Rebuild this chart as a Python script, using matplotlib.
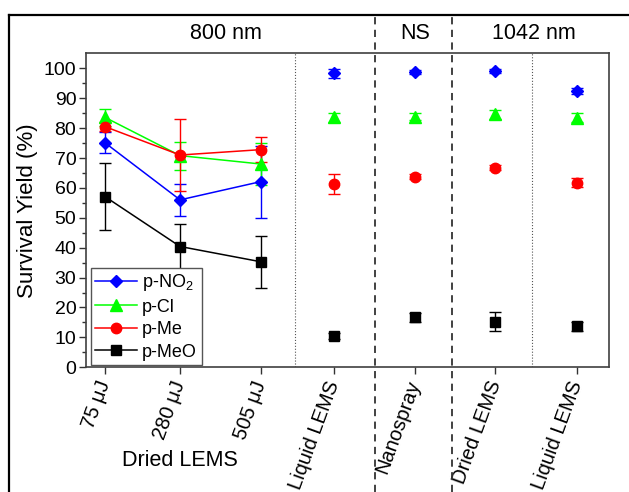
import numpy as np
import matplotlib
matplotlib.use("Agg")
import matplotlib.pyplot as plt
from matplotlib.lines import Line2D
from matplotlib.transforms import blended_transform_factory

plt.rcParams['font.family'] = ['Liberation Sans', 'DejaVu Sans']
plt.rcParams['mathtext.default'] = 'regular'

# categories and positions on the x axis
labels = ['75 μJ', '280 μJ', '505 μJ', 'Liquid LEMS', 'Nanospray', 'Dried LEMS', 'Liquid LEMS']
xpos = [1, 1.95, 2.97, 3.9, 4.92, 5.94, 6.97]

# survival yields (%) and error bars
no2 = [75.1, 56.0, 62.1, 98.3, 98.8, 99.0, 92.4]
no2_err = [3.5, 5.4, 12.0, 1.5, 0.8, 0.7, 1.0]
cl = [83.6, 70.8, 68.0, 83.6, 83.8, 84.6, 83.5]
cl_err = [2.8, 4.7, 7.0, 1.5, 1.2, 1.5, 1.5]
me = [80.5, 71.0, 72.8, 61.4, 63.8, 66.8, 61.8]
me_err = [1.5, 12.0, 4.3, 3.3, 0.8, 0.8, 1.5]
meo = [57.1, 40.4, 35.3, 10.6, 16.8, 15.2, 13.7]
meo_err = [11.1, 7.5, 8.7, 1.0, 1.5, 3.2, 1.5]

series = [
    ('p-NO$_2$', no2, no2_err, '#0000ff', 'D', 6.5),
    ('p-Cl', cl, cl_err, '#00ff00', '^', 8.5),
    ('p-Me', me, me_err, '#ff0000', 'o', 7.5),
    ('p-MeO', meo, meo_err, '#000000', 's', 6.5),
]

fig = plt.figure(figsize=(6.29, 4.92), dpi=100)
ax = fig.add_axes([0.1367, 0.2535, 0.832, 0.638])

handles = []
for name, y, err, c, m, ms in series:
    # connected points: the three pulse energies
    ax.errorbar(xpos[:3], y[:3], yerr=err[:3], color=c, marker=m, ms=ms,
                lw=1.1, capsize=4.5, elinewidth=1.0, capthick=1.0, zorder=3)
    ax.errorbar(xpos[3:], y[3:], yerr=err[3:], color=c, marker=m, ms=ms,
                ls='none', capsize=4.5, elinewidth=1.0, capthick=1.0, zorder=3)
    handles.append(Line2D([], [], color=c, marker=m, ms=ms, lw=1.1, label=name))

ax.set_xlim(0.76, 7.38)
ax.set_ylim(0, 105)
ax.set_yticks(np.arange(0, 101, 10))
ax.set_yticks(np.arange(5, 101, 10), minor=True)
ax.set_xticks(xpos)
ax.set_xticklabels(labels, rotation=70, ha='right', va='center',
                   rotation_mode='anchor', fontsize=14.5)
ax.tick_params(axis='y', labelsize=14, length=5, width=1, color='#333333', pad=2)
ax.tick_params(axis='y', which='minor', length=3, width=1, color='#333333')
ax.tick_params(axis='x', length=5, width=1, color='#333333', pad=5)
for s in ax.spines.values():
    s.set_color('#404040')
    s.set_linewidth(1.2)
ax.set_ylabel('Survival Yield (%)', fontsize=16, labelpad=4)

# thin dotted separators inside the plot
for xs in [3.41, 6.40]:
    ax.axvline(xs, color='#555555', ls=':', lw=0.8, zorder=1)

# dashed separators across the whole figure
tr = blended_transform_factory(ax.transData, fig.transFigure)
top = 1 - 14.7 / 492
for xs in [4.41, 5.39]:
    ax.add_line(Line2D([xs, xs], [0, top], transform=tr, color='#333333',
                       lw=1.3, dashes=(4, 3), clip_on=False))

# outer frame (cropped on right and bottom)
fx = 9 / 629
fig.add_artist(Line2D([fx, 1], [top, top], color='black', lw=1.6))
fig.add_artist(Line2D([fx, fx], [0, top], color='black', lw=1.6))

# headers
hy = 1 - 33 / 492
ax.text(2.53, hy, '800 nm', transform=tr, ha='center', va='center', fontsize=15.5)
ax.text(4.92, hy, 'NS', transform=tr, ha='center', va='center', fontsize=15.5)
ax.text(6.42, hy, '1042 nm', transform=tr, ha='center', va='center', fontsize=15.5)
ax.text(1.95, 1 - 460 / 492, 'Dried LEMS', transform=tr, ha='center', va='center',
        fontsize=15.5)

leg = ax.legend(handles=handles, loc='lower left', bbox_to_anchor=(0.009, 0.007),
                borderaxespad=0, fontsize=13, handlelength=2.3, handletextpad=0.3,
                labelspacing=0.3, borderpad=0.25, fancybox=False, framealpha=1)
leg.get_frame().set_edgecolor('#555555')
leg.get_frame().set_linewidth(1.0)

fig.savefig('out.png', dpi=100)
